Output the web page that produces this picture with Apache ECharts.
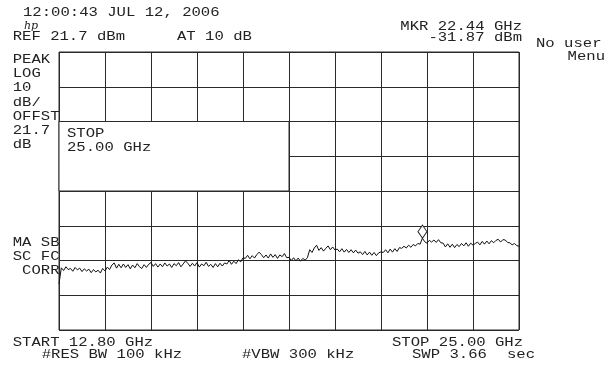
<!DOCTYPE html>
<html>
<head>
<meta charset="utf-8">
<script src="https://cdn.jsdelivr.net/npm/echarts@6/dist/echarts.min.js"></script>
<style>
  html, body { margin: 0; padding: 0; background: #fff; }
  #chart { width: 613px; height: 366px; }
</style>
</head>
<body>
<div id="chart"></div>
<script>
// Sweep settings
const startGHz = 12.80;
const stopGHz = 25.00;
const refLevelDbm = 21.7;
const dbPerDiv = 10;
const vertDivs = 8;
const horizDivs = 10;

// Marker readout
const markerGHz = 22.44;
const markerDbm = -31.87;

// Trace amplitudes (dBm), one per sweep point, evenly spaced from start to stop
const traceDbm = [
  -45.0,
  -40.4, -41.2, -40.1, -40.9, -40.6, -41.4, -40.3, -41.0, -40.5, -41.5, -40.7, -41.3, -40.8, -41.8, -40.9, -41.6, -41.1,
  -41.9, -40.6, -41.3, -40.2, -40.9, -39.6, -39.0,
  -40.5, -39.4, -40.4, -39.3, -40.3, -39.5, -40.7, -39.6, -40.4, -39.2, -40.1, -40.6, -39.5, -40.3, -39.4,
  -38.9,
  -40.0, -39.2, -40.2, -39.3, -40.1, -39.0, -39.9, -39.3, -40.3, -39.2, -39.8, -38.9, -40.1, -39.3,
  -38.4,
  -39.1, -40.0, -39.1, -39.9, -38.9, -40.2, -39.3, -39.8, -38.8, -40.0, -39.4, -40.3, -39.2, -40.1, -39.1, -39.9, -39.0,
  -39.3, -38.3, -39.4, -38.5, -39.2, -38.1, -38.7,
  -37.5,
  -37.7, -36.8, -37.8, -36.9, -37.6, -36.6,
  -35.9,
  -36.6, -37.5, -36.7, -37.6, -36.4, -37.4, -36.6, -37.7, -36.7, -37.2, -36.3, -37.5,
  -37.4, -38.3, -37.5, -38.4, -37.6, -38.5, -37.7, -38.2, -37.5,
  -35.2, -36.0, -34.7, -33.9, -35.4, -34.6, -35.6, -34.8, -34.1, -35.2, -34.4, -35.3,
  -35.0, -35.8, -34.9, -35.9, -35.1, -36.0, -35.2, -36.1, -35.3, -36.2,
  -35.8, -36.6, -35.7, -36.7, -35.9, -36.8, -36.0, -36.9, -36.1, -35.8,
  -36.0, -35.2, -36.1, -35.0, -35.9, -34.9, -35.7,
  -34.6, -34.8, -34.2, -34.7, -33.9, -34.5, -33.7, -34.1, -33.4, -33.6,
  -31.87, -32.9,
  -33.3, -32.5, -33.0, -32.4, -33.1, -32.3, -33.2,
  -33.3, -34.4, -33.5, -34.5, -33.6, -34.6, -33.7, -34.3, -33.4,
  -34.1, -33.2, -34.2, -33.3, -33.9,
  -33.4, -33.0, -33.8, -32.8, -33.6, -32.7, -33.5, -32.6, -33.2,
  -32.5, -32.2, -33.0, -32.3, -32.4, -33.1,
  -33.2, -33.8, -33.4, -34.0, -34.2
];

// Annotation text around the graticule
const timeStamp = '12:00:43 JUL 12, 2006';
const leftColumn = ['PEAK', 'LOG', '10', 'dB/', 'OFFST', '21.7', 'dB'];
const leftLower = ['MA SB', 'SC FC', ' CORR'];

const stepGHz = (stopGHz - startGHz) / (traceDbm.length - 1);
const tracePoints = traceDbm.map((v, i) => [startGHz + i * stepGHz, v]);

const FONT = '"Liberation Mono", "DejaVu Sans Mono", monospace';
const INK = '#222';
const FS = 13;
const WIDEN = 1.2;

function txt(x, y, text, align) {
  return {
    type: 'text', x: x, y: y, z: 100, scaleX: WIDEN, silent: true,
    style: { text: text, font: FS + 'px ' + FONT, fill: INK,
             align: align || 'left', verticalAlign: 'middle' }
  };
}

const graphics = [
  txt(23, 13, timeStamp),
  { type: 'text', x: 24, y: 26, z: 100, silent: true,
    style: { text: 'hp', font: 'italic 11px "DejaVu Serif", serif', fill: INK, verticalAlign: 'middle' } },
  txt(12.7, 36.5, 'REF 21.7 dBm'),
  txt(177, 36.5, 'AT 10 dB'),
  txt(522, 27, 'MKR ' + markerGHz.toFixed(2) + ' GHz', 'right'),
  txt(522, 38, markerDbm.toFixed(2) + ' dBm', 'right'),
  txt(536, 44, 'No user'),
  txt(605, 57, 'Menu', 'right'),
  txt(12.7, 342.5, 'START ' + startGHz.toFixed(2) + ' GHz'),
  txt(392, 342.5, 'STOP ' + stopGHz.toFixed(2) + ' GHz'),
  txt(41.7, 355, '#RES BW 100 kHz'),
  txt(242, 355, '#VBW 300 kHz'),
  txt(412, 355, 'SWP 3.66'),
  txt(507, 355, 'sec'),
  txt(67, 134, 'STOP'),
  txt(67, 148, stopGHz.toFixed(2) + ' GHz')
];
leftColumn.forEach((s, k) => graphics.push(txt(12.7, 59.5 + 14.25 * k, s)));
leftLower.forEach((s, k) => graphics.push(txt(12.7, 243 + 14 * k, s)));

const chart = echarts.init(document.getElementById('chart'), null, { renderer: 'canvas' });
chart.setOption({
  animation: false,
  backgroundColor: '#fff',
  grid: {
    left: 59, top: 52, width: 460, height: 278,
    show: true, borderColor: '#2a2a2a', borderWidth: 1, backgroundColor: 'transparent'
  },
  xAxis: [
    { type: 'value', min: startGHz, max: stopGHz, show: false },
    { type: 'value', min: 0, max: horizDivs, interval: 1, position: 'top',
      axisLine: { show: false }, axisTick: { show: false }, axisLabel: { show: false },
      splitLine: { show: true, lineStyle: { color: '#2a2a2a', width: 1 } } }
  ],
  yAxis: [
    { type: 'value', min: refLevelDbm - dbPerDiv * vertDivs, max: refLevelDbm, show: false },
    { type: 'value', min: 0, max: vertDivs, interval: 1, position: 'right',
      axisLine: { show: false }, axisTick: { show: false }, axisLabel: { show: false },
      splitLine: { show: true, lineStyle: { color: '#2a2a2a', width: 1 } } }
  ],
  series: [
    {
      // blank annotation window over the upper-left graticule
      type: 'line', xAxisIndex: 1, yAxisIndex: 1, data: [], silent: true,
      markArea: {
        silent: true,
        itemStyle: { color: '#fff', borderColor: '#2a2a2a', borderWidth: 1 },
        label: { show: false },
        data: [[{ coord: [0, 6] }, { coord: [5, 4] }]]
      }
    },
    {
      type: 'line', xAxisIndex: 0, yAxisIndex: 0, data: tracePoints,
      showSymbol: false, silent: true,
      lineStyle: { color: '#111', width: 1 },
      markPoint: {
        silent: true,
        symbol: 'diamond', symbolSize: [9, 13], symbolOffset: [0, '-50%'],
        itemStyle: { color: '#fff', borderColor: '#222', borderWidth: 1 },
        label: { show: false },
        data: [{ coord: [markerGHz, markerDbm] }]
      }
    }
  ],
  graphic: graphics
});
</script>
</body>
</html>
